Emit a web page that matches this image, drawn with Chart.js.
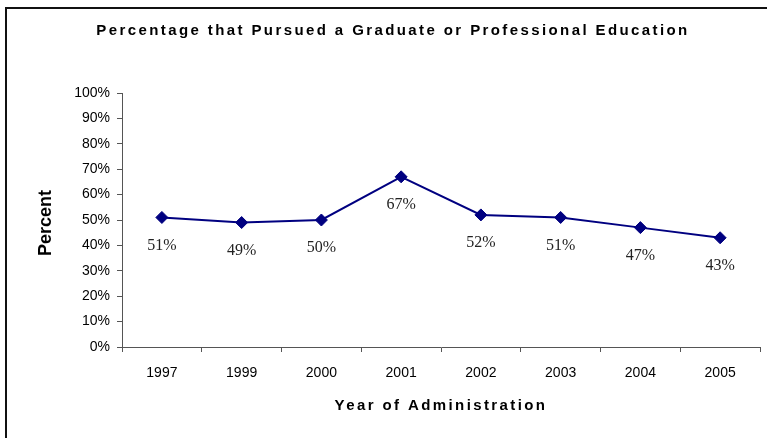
<!DOCTYPE html>
<html>
<head>
<meta charset="utf-8">
<script src="https://cdn.jsdelivr.net/npm/chart.js@4.4.1/dist/chart.umd.min.js"></script>
<style>
  body { margin: 0; background: #fff; }
  canvas { display: block; }
</style>
</head>
<body>
<canvas id="myChart" width="767" height="438"></canvas>
<script>
// chart data
var years = ['1997', '1999', '2000', '2001', '2002', '2003', '2004', '2005'];
var percents = [51, 49, 50, 67, 52, 51, 47, 43];
var yTicks = [0, 10, 20, 30, 40, 50, 60, 70, 80, 90, 100];

var chartTitle = 'Percentage that Pursued a Graduate or Professional Education';
var xTitle = 'Year of Administration';
var yTitle = 'Percent';

// frame, titles and point labels drawn on the canvas
var extras = {
    id: 'extras',
    beforeDraw: function (chart) {
        var ctx = chart.ctx;
        ctx.save();
        ctx.fillStyle = '#fff';
        ctx.fillRect(0, 0, chart.width, chart.height);
        ctx.strokeStyle = '#111';
        ctx.lineWidth = 2;
        ctx.strokeRect(6, 8, 820, 480);
        ctx.restore();
    },
    afterDraw: function (chart) {
        var ctx = chart.ctx;
        var area = chart.chartArea;
        ctx.save();
        ctx.fillStyle = '#000';
        ctx.textAlign = 'center';
        ctx.textBaseline = 'middle';

        ctx.letterSpacing = '2.4px';
        ctx.font = 'bold 15px "Liberation Sans", Arial, sans-serif';
        ctx.fillText(chartTitle, 393, 31);
        ctx.fillText(xTitle, (area.left + area.right) / 2, 406);

        ctx.letterSpacing = '0px';
        ctx.translate(46, (area.top + area.bottom) / 2 + 3);
        ctx.rotate(-Math.PI / 2);
        ctx.font = 'bold 18px "Liberation Sans", Arial, sans-serif';
        ctx.fillText(yTitle, 0, 0);
        ctx.restore();

        // value labels under each point
        var meta = chart.getDatasetMeta(0);
        ctx.save();
        ctx.fillStyle = '#222';
        ctx.textAlign = 'center';
        ctx.textBaseline = 'middle';
        ctx.font = '16px "Liberation Serif", "Times New Roman", serif';
        meta.data.forEach(function (pt, i) {
            ctx.fillText(percents[i] + '%', pt.x, pt.y + 28);
        });
        ctx.restore();
    }
};

var ctx = document.getElementById('myChart').getContext('2d');
var chart = new Chart(ctx, {
    type: 'line',
    data: {
        labels: years,
        datasets: [{
            label: yTitle,
            data: percents,
            borderColor: '#000080',
            backgroundColor: '#000080',
            borderWidth: 2,
            pointStyle: 'rectRot',
            pointRadius: 6,
            pointBorderWidth: 1,
            tension: 0,
            fill: false
        }]
    },
    options: {
        responsive: false,
        animation: false,
        layout: { padding: { left: 0, top: 93, right: 5, bottom: 0 } },
        plugins: {
            legend: { display: false },
            title: { display: false },
            tooltip: { enabled: false }
        },
        scales: {
            x: {
                offset: true,
                grid: { offset: true, drawOnChartArea: false, drawTicks: true, tickLength: 5, color: '#555' },
                border: { color: '#555', width: 1 },
                ticks: {
                    color: '#000',
                    padding: 13,
                    maxRotation: 0,
                    font: { family: '"Liberation Sans", Arial, sans-serif', size: 14 }
                },
                afterFit: function (scale) { scale.height = 91; }
            },
            y: {
                min: 0,
                max: 100,
                grid: { drawOnChartArea: false, drawTicks: true, tickLength: 5, color: '#555' },
                border: { color: '#555', width: 1 },
                afterBuildTicks: function (scale) {
                    scale.ticks = yTicks.map(function (v) { return { value: v }; });
                },
                ticks: {
                    color: '#000',
                    padding: 7,
                    font: { family: '"Liberation Sans", Arial, sans-serif', size: 14 },
                    callback: function (v) { return v + '%'; }
                },
                afterFit: function (scale) { scale.width = 122; }
            }
        }
    },
    plugins: [extras]
});
</script>
</body>
</html>
